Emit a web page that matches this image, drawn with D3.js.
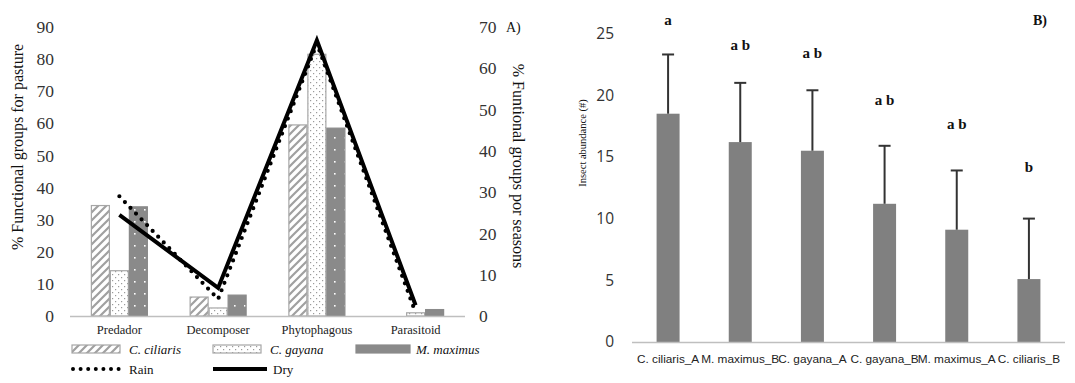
<!DOCTYPE html>
<html><head><meta charset="utf-8">
<script src="https://cdn.jsdelivr.net/npm/d3@7"></script>
<style>
body{margin:0;background:#fff;}
svg{display:block;}
</style></head>
<body>
<svg id="c" width="1075" height="383"></svg>
<script>
// ---------- Data (panel A) ----------
const groups = ["Predador","Decomposer","Phytophagous","Parasitoid"];
const pastures = ["C. ciliaris","C. gayana","M. maximus"];
const ciliaris = [34.4, 5.9, 59.5, 0.0];
const gayana = [14.1, 2.5, 81.5, 1.0];
const maximus = [34.0, 6.5, 58.5, 2.0];
const rain = [29.0, 4.1, 66.0, 0.8];
const dry = [24.5, 6.8, 66.8, 2.6];
const leftTicks = [0,10,20,30,40,50,60,70,80,90];
const rightTicks = [0,10,20,30,40,50,60,70];

// ---------- Data (panel B) ----------
const treatments = ["C. ciliaris_A","M. maximus_B","C. gayana_A","C. gayana_B","M. maximus_A","C. ciliaris_B"];
const abundance = [18.5, 16.2, 15.5, 11.2, 9.1, 5.1];
const errorTop = [23.3, 21.0, 20.4, 15.9, 13.9, 10.0];
const letters = ["a","a b","a b","a b","a b","b"];
const letterY = [25.7, 23.7, 23.0, 19.2, 17.3, 13.8];
const abTicks = [0,5,10,15,20,25];

const svg = d3.select("#c");
const serif = "'Liberation Serif','Times New Roman',serif";
const sans = "'Liberation Sans',Arial,sans-serif";

// ---------- Patterns ----------
const defs = svg.append("defs");
const p1 = defs.append("pattern").attr("id","stripe").attr("patternUnits","userSpaceOnUse")
  .attr("width",8).attr("height",8);
p1.append("rect").attr("width",8).attr("height",8).attr("fill","#fff");
p1.append("path").attr("d","M-2,10 L10,-2 M-2,2 L2,-2 M6,10 L10,6").attr("stroke","#a0a0a0").attr("stroke-width",2.2);
const p2 = defs.append("pattern").attr("id","dots").attr("patternUnits","userSpaceOnUse")
  .attr("width",6).attr("height",6);
p2.append("rect").attr("width",6).attr("height",6).attr("fill","#fff");
p2.append("rect").attr("x",1).attr("y",1).attr("width",1.2).attr("height",1.2).attr("fill","#9a9a9a");
p2.append("rect").attr("x",4).attr("y",4).attr("width",1.2).attr("height",1.2).attr("fill","#9a9a9a");
const p3 = defs.append("pattern").attr("id","sparse").attr("patternUnits","userSpaceOnUse")
  .attr("width",10).attr("height",12);
p3.append("rect").attr("width",10).attr("height",12).attr("fill","#8a8a8a");
p3.append("rect").attr("x",4).attr("y",5).attr("width",1.6).attr("height",1.6).attr("fill","#fff");
const fills = ["url(#stripe)","url(#dots)","url(#sparse)"];
const strokes = ["#a6a6a6","#a6a6a6","#8a8a8a"];

// ---------- Panel A ----------
const xA = d3.scaleBand().domain(groups).range([70,465]);
const yL = d3.scaleLinear().domain([0,90]).range([316,27]);
const yR = d3.scaleLinear().domain([0,70]).range([316,27]);
const xSub = d3.scaleBand().domain(pastures).range([-28.5,28.5]);
const series = [ciliaris, gayana, maximus];

const gA = svg.append("g");
series.forEach((vals,si)=>{
  gA.selectAll(null).data(groups.filter((d,i)=>vals[i]>0)).enter().append("rect")
    .attr("x",d=>xA(d)+xA.bandwidth()/2+xSub(pastures[si])+0.5)
    .attr("width",xSub.bandwidth()-1)
    .attr("y",d=>yL(vals[groups.indexOf(d)]))
    .attr("height",d=>yL(0)-yL(vals[groups.indexOf(d)]))
    .attr("fill",fills[si]).attr("stroke",strokes[si]).attr("stroke-width",1.2);
});

// x axis line
gA.append("line").attr("x1",70).attr("x2",465).attr("y1",316.5).attr("y2",316.5)
  .attr("stroke","#bfbfbf").attr("stroke-width",1.5);

// lines
const lineGen = d3.line().x((d,i)=>xA(groups[i])+xA.bandwidth()/2).y(d=>yR(d));
gA.append("path").datum(rain).attr("d",lineGen).attr("fill","none")
  .attr("stroke","#000").attr("stroke-width",4.2).attr("stroke-linecap","round")
  .attr("stroke-dasharray","0 8");
gA.append("path").datum(dry).attr("d",lineGen).attr("fill","none")
  .attr("stroke","#000").attr("stroke-width",4).attr("stroke-linejoin","miter");

// axes
const axL = gA.append("g").attr("transform","translate(54,0)")
  .call(d3.axisLeft(yL).tickValues(leftTicks).tickSize(0).tickPadding(0));
const axR = gA.append("g").attr("transform","translate(479,0)")
  .call(d3.axisRight(yR).tickValues(rightTicks).tickSize(0).tickPadding(0));
[axL,axR].forEach(a=>{
  a.select(".domain").remove();
  a.selectAll("text").attr("font-family",serif).attr("font-size","17.5px").attr("fill","#333");
});
gA.selectAll(null).data(groups).enter().append("text")
  .attr("x",d=>xA(d)+xA.bandwidth()/2).attr("y",334)
  .attr("text-anchor","middle").attr("font-family",serif).attr("font-size","12.5px").attr("fill","#222")
  .text(d=>d);

// axis titles
gA.append("text").attr("transform","translate(23,147) rotate(-90)")
  .attr("text-anchor","middle").attr("font-family",serif).attr("font-size","16px").attr("fill","#111")
  .text("% Functional groups for pasture");
gA.append("text").attr("transform","translate(513,166) rotate(90)")
  .attr("text-anchor","middle").attr("font-family",serif).attr("font-size","16px").attr("fill","#111")
  .text("% Funtional groups por seasons");
gA.append("text").attr("x",506).attr("y",32).attr("font-family",serif).attr("font-size","14px")
  .attr("fill","#111").text("A)");

// legend
const legItems = [
  {t:"C. ciliaris", x:72, y:349, type:"bar", s:0},
  {t:"C. gayana", x:213, y:349, type:"bar", s:1},
  {t:"M. maximus", x:356, y:349, type:"bar", s:2},
  {t:"Rain", x:72, y:373, type:"rain"},
  {t:"Dry", x:213, y:373, type:"dry"}
];
legItems.forEach(l=>{
  if(l.type==="bar"){
    gA.append("rect").attr("x",l.x).attr("y",l.y-4).attr("width",l.s===2?54:48).attr("height",8)
      .attr("fill",fills[l.s]).attr("stroke",strokes[l.s]).attr("stroke-width",1.2);
    gA.append("text").attr("x",l.x+(l.s===2?60:57)).attr("y",l.y+4.5).attr("font-family",serif)
      .attr("font-style","italic").attr("font-size","13px").attr("fill","#111").text(l.t);
  } else if(l.type==="rain"){
    gA.append("line").attr("x1",l.x+1).attr("x2",l.x+48).attr("y1",l.y-4).attr("y2",l.y-4)
      .attr("stroke","#000").attr("stroke-width",4).attr("stroke-linecap","round").attr("stroke-dasharray","0 7.6");
    gA.append("text").attr("x",l.x+57).attr("y",l.y+0.5).attr("font-family",serif)
      .attr("font-size","13px").attr("fill","#111").text(l.t);
  } else {
    gA.append("line").attr("x1",l.x).attr("x2",l.x+54).attr("y1",l.y-4).attr("y2",l.y-4)
      .attr("stroke","#000").attr("stroke-width",4);
    gA.append("text").attr("x",l.x+60).attr("y",l.y+0.5).attr("font-family",serif)
      .attr("font-size","13px").attr("fill","#111").text(l.t);
  }
});

// ---------- Panel B ----------
const xB = d3.scaleBand().domain(treatments).range([632,1065]);
const yB = d3.scaleLinear().domain([0,25]).range([342,33.5]);
const gB = svg.append("g");
const bw = 23;
gB.selectAll(null).data(treatments).enter().append("rect")
  .attr("x",d=>xB(d)+xB.bandwidth()/2-bw/2).attr("width",bw)
  .attr("y",(d,i)=>yB(abundance[i])).attr("height",(d,i)=>yB(0)-yB(abundance[i]))
  .attr("fill","#808080");
// error bars
gB.selectAll(null).data(treatments).enter().append("line")
  .attr("x1",d=>xB(d)+xB.bandwidth()/2).attr("x2",d=>xB(d)+xB.bandwidth()/2)
  .attr("y1",(d,i)=>yB(abundance[i])).attr("y2",(d,i)=>yB(errorTop[i]))
  .attr("stroke","#333").attr("stroke-width",2);
gB.selectAll(null).data(treatments).enter().append("line")
  .attr("x1",d=>xB(d)+xB.bandwidth()/2-6).attr("x2",d=>xB(d)+xB.bandwidth()/2+6)
  .attr("y1",(d,i)=>yB(errorTop[i])).attr("y2",(d,i)=>yB(errorTop[i]))
  .attr("stroke","#333").attr("stroke-width",2);
// letters
gB.selectAll(null).data(treatments).enter().append("text")
  .attr("x",d=>xB(d)+xB.bandwidth()/2).attr("y",(d,i)=>yB(letterY[i]))
  .attr("text-anchor","middle").attr("font-family",serif).attr("font-weight","bold")
  .attr("font-size","15px").attr("fill","#111").text((d,i)=>letters[i]);
// axis line
gB.append("line").attr("x1",632).attr("x2",1065).attr("y1",342.5).attr("y2",342.5)
  .attr("stroke","#bfbfbf").attr("stroke-width",1.5);
const axB = gB.append("g").attr("transform","translate(614,0)")
  .call(d3.axisLeft(yB).tickValues(abTicks).tickSize(0).tickPadding(0));
axB.select(".domain").remove();
axB.selectAll("text").attr("font-family","'Open Sans',sans-serif").attr("font-size","15.5px").attr("fill","#333");
gB.selectAll(null).data(treatments).enter().append("text")
  .attr("x",d=>xB(d)+xB.bandwidth()/2).attr("y",363)
  .attr("text-anchor","middle").attr("font-family",sans).attr("font-size","11.8px").attr("fill","#222")
  .text(d=>d);
gB.append("text").attr("transform","translate(586,143) rotate(-90)")
  .attr("text-anchor","middle").attr("font-family",serif).attr("font-size","10.5px").attr("fill","#111")
  .text("Insect abundance (#)");
gB.append("text").attr("x",1033).attr("y",25).attr("font-family",serif).attr("font-weight","bold")
  .attr("font-size","14px").attr("fill","#111").text("B)");
</script>
</body></html>
